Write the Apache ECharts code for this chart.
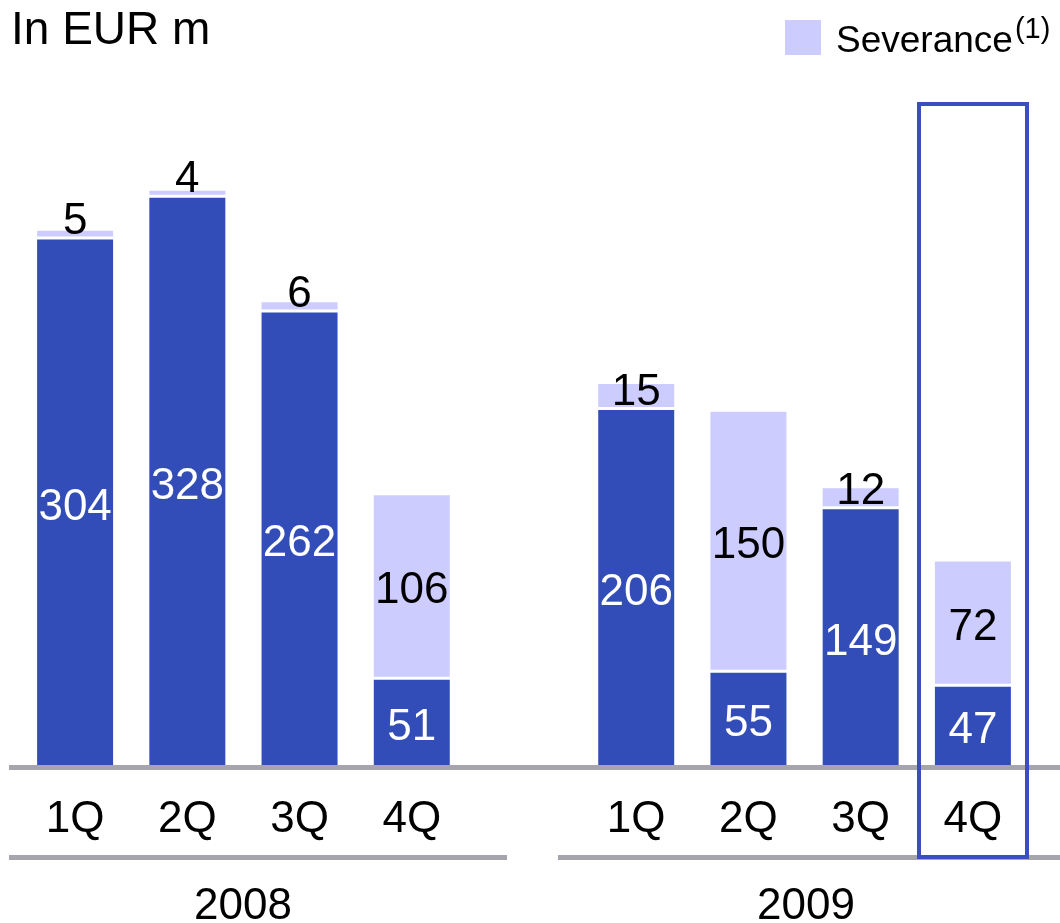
<!DOCTYPE html>
<html>
<head>
<meta charset="utf-8">
<script src="https://cdn.jsdelivr.net/npm/echarts@6/dist/echarts.min.js"></script>
<style>
    html, body { margin: 0; padding: 0; background: #fff; }
    #chart { width: 1060px; height: 923px; }
</style>
</head>
<body>
<div id="chart"></div>
<script>
    // data ('' slot = gap between the two years)
    var quarters = ['1Q', '2Q', '3Q', '4Q', '', '1Q', '2Q', '3Q', '4Q'];
    var years = ['2008', '2009'];
    var baseValues = [304, 328, 262, 51, '-', 206, 55, 149, 47];
    var severanceValues = [5, 4, 6, 106, '-', 15, 150, 12, 72];

    var DARK = '#334db8';
    var LIGHT = '#ccccff';
    var GREY = '#a6a5ae';
    var FONT = 'Liberation Sans, Arial, sans-serif';

    var chart = echarts.init(document.getElementById('chart'));

    // small severance parts get their label sitting on the bar instead of centred
    var severanceData = severanceValues.map(function (v) {
        if (v === '-') return v;
        if (v < 30) {
            return { value: v, label: { position: 'insideBottom', distance: -8, offset: [0, -2] } };
        }
        return v;
    });

    var option = {
        animation: false,
        title: {
            text: 'In EUR m',
            left: 11,
            top: 8,
            padding: 0,
            textStyle: { fontFamily: FONT, fontSize: 46, fontWeight: 'normal', color: '#000' }
        },
        legend: {
            data: ['Severance'],
            left: 783,
            top: 15,
            padding: 0,
            icon: 'rect',
            itemWidth: 38,
            itemHeight: 37,
            formatter: '{a|Severance}{s|(1)}',
            textStyle: {
                fontFamily: FONT,
                color: '#000',
                rich: {
                    a: { fontSize: 37, fontFamily: FONT, padding: [8, 0, 0, 9] },
                    s: { fontSize: 29, fontFamily: FONT, verticalAlign: 'top', padding: [0, 0, 0, 2] }
                }
            }
        },
        grid: { left: 19, right: 31, top: 71, bottom: 156 },
        xAxis: {
            type: 'category',
            data: quarters,
            axisLine: { show: false },
            axisTick: { show: false },
            axisLabel: { fontFamily: FONT, fontSize: 44, color: '#000', margin: 31, interval: 0 }
        },
        yAxis: {
            type: 'value',
            min: 0,
            max: 400,
            show: false,
            splitLine: { show: false }
        },
        series: [
            {
                name: 'Base',
                type: 'bar',
                stack: 'q',
                barWidth: 79,
                data: baseValues,
                itemStyle: { color: DARK, borderColor: '#fff', borderWidth: 1.5 },
                label: { show: true, position: 'inside', offset: [0, 5], color: '#fff', fontFamily: FONT, fontSize: 44 }
            },
            {
                name: 'Severance',
                type: 'bar',
                stack: 'q',
                barWidth: 79,
                data: severanceData,
                itemStyle: { color: LIGHT, borderColor: '#fff', borderWidth: 1.5 },
                label: { show: true, position: 'inside', offset: [0, 5], color: '#000', fontFamily: FONT, fontSize: 44 }
            }
        ],
        graphic: [
            // baseline and the two year underlines
            { type: 'line', z: 100, shape: { x1: 9, y1: 767.5, x2: 1060, y2: 767.5 }, style: { stroke: GREY, lineWidth: 5 } },
            { type: 'line', z: 100, shape: { x1: 9, y1: 857.5, x2: 507, y2: 857.5 }, style: { stroke: GREY, lineWidth: 5 } },
            { type: 'line', z: 100, shape: { x1: 558, y1: 857.5, x2: 1060, y2: 857.5 }, style: { stroke: GREY, lineWidth: 5 } },
            // highlight box round 4Q 2009
            { type: 'rect', z: 101, shape: { x: 919, y: 104, width: 108, height: 753 }, style: { fill: 'none', stroke: '#3a4fbf', lineWidth: 4 } },
            { type: 'text', z: 100, x: 243, y: 907, style: { text: years[0], fontFamily: FONT, fontSize: 44, fill: '#000', align: 'center', verticalAlign: 'middle' } },
            { type: 'text', z: 100, x: 806, y: 907, style: { text: years[1], fontFamily: FONT, fontSize: 44, fill: '#000', align: 'center', verticalAlign: 'middle' } }
        ]
    };

    chart.setOption(option);
</script>
</body>
</html>
